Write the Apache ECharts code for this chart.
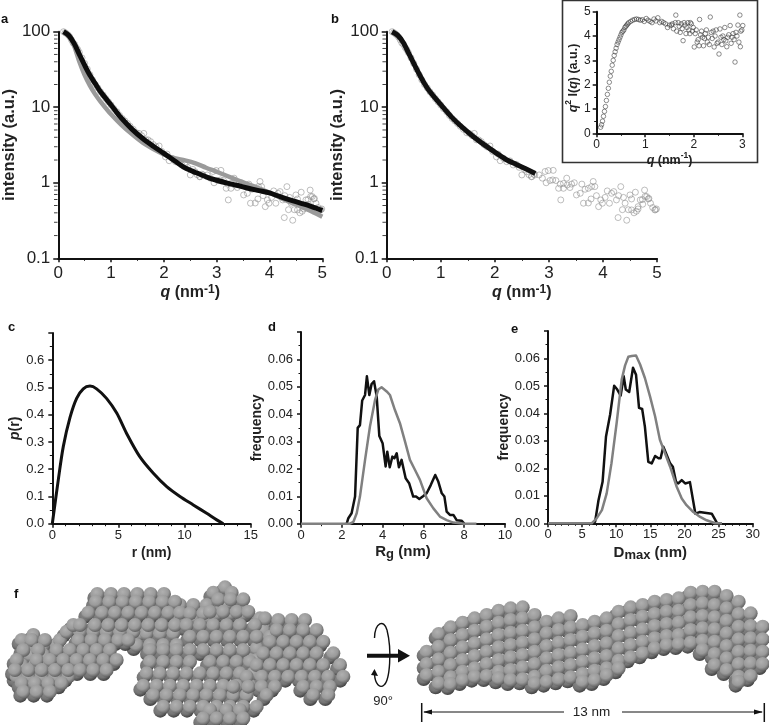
<!DOCTYPE html>
<html><head><meta charset="utf-8">
<style>html,body{margin:0;padding:0;background:#fff}#c{width:769px;height:725px}</style>
<script src="https://cdn.jsdelivr.net/npm/echarts@6/dist/echarts.min.js"></script>
</head><body><div id="c"></div>
<script>
const scatterLow=[[0.1,100],[0.13,97],[0.16,94],[0.19,90],[0.22,85],[0.25,78],[0.28,71],[0.31,68],[0.34,62],[0.37,58],[0.4,53],[0.45,45],[0.5,38],[0.55,32],[0.6,27],[0.65,23],[0.7,20],[0.75,18],[0.8,16],[0.85,14.5],[0.9,13],[0.95,11.8],[1,10.7],[1.05,9.6],[1.11,8.7],[1.16,7.8],[1.21,7.1],[1.26,6.6],[1.31,6.1],[1.36,5.6],[1.42,5.1],[1.48,4.6],[1.53,4.5],[1.58,4.2],[1.62,4.5],[1.66,3.7],[1.7,3.7],[1.75,3.5],[1.8,3.2],[1.85,3.0],[1.91,3.07],[1.96,2.6],[2.03,2.2],[2.06,2.4],[2.1,1.96],[2.16,2.1],[2.22,1.9],[2.28,1.95],[2.34,1.72],[2.4,1.75],[2.45,1.6],[2.5,1.27],[2.55,1.5],[2.59,1.4],[2.63,1.28],[2.68,1.2],[2.72,1.3]];
const scatterHigh=[[2.68,1.21],[2.74,1.27],[2.82,1.27],[2.93,1.41],[2.99,1.45],[3.08,1.46],[2.88,1.15],[2.95,1.0],[3.02,1.07],[3.07,1.09],[3.13,1.07],[3.18,.845],[3.21,.96],[3.27,.845],[3.27,.98],[3.33,1.15],[3.34,.935],[3.39,.865],[3.42,.96],[3.47,1.0],[3.51,.69],[3.58,.726],[3.61,.96],[3.67,.82],[3.73,.845],[3.79,.89],[3.82,1.04],[3.85,.89],[3.22,.593],[3.64,.536],[3.73,.54],[3.78,.61],[3.88,.675],[3.92,.483],[3.96,.593],[3.99,.536],[4.04,.64],[4.12,.536],[4.08,.78],[4.16,.726],[4.20,.764],[4.25,.593],[4.33,.889],[4.29,.675],[4.38,.64],[4.41,.536],[4.50,.69],[4.53,.61],[4.60,.75],[4.36,.44],[4.47,.44],[4.53,.437],[4.575,.40],[4.65,.483],[4.69,.593],[4.735,.52],[4.77,.80],[4.81,.656],[4.84,.61],[4.88,.536],[4.92,.47],[4.96,.437],[4.28,.346],[4.44,.319],[4.97,.44],[4.99,.45],[4.85,.62],[4.78,.66],[4.73,.6],[4.65,.45],[4.62,.42]];
const fitA=[[.1,100],[.2,89],[.3,70],[.4,50],[.5,36],[.6,26.5],[.7,20.5],[.8,16],[1,10.7],[1.2,7.1],[1.4,5.1],[1.6,3.85],[1.8,3.05],[2,2.45],[2.2,1.96],[2.4,1.58],[2.6,1.37],[2.8,1.2],[3,1.08],[3.2,.99],[3.4,.92],[3.6,.845],[3.8,.787],[4,.733],[4.2,.655],[4.4,.59],[4.6,.535],[4.8,.483],[5,.428]];
const greyA=[[.1,100],[.2,88],[.3,65],[.4,40],[.5,26.7],[.6,19.3],[.7,14.8],[.8,11.9],[1,8.05],[1.2,5.8],[1.4,4.37],[1.6,3.39],[1.8,2.8],[2,2.38],[2.2,2.11],[2.4,1.98],[2.6,1.81],[2.8,1.58],[3,1.4],[3.2,1.23],[3.4,1.08],[3.6,.955],[3.8,.845],[4,.74],[4.2,.635],[4.4,.55],[4.6,.483],[4.8,.418],[5,.356]];
const fitB=[[.1,100],[.2,90],[.3,73],[.4,53],[.5,38],[.6,27.5],[.7,20.5],[.8,16],[1,10.8],[1.2,7.4],[1.4,5.4],[1.6,4.1],[1.8,3.2],[2,2.55],[2.2,2.05],[2.4,1.75],[2.6,1.5],[2.75,1.33]];
const kratky=[[.08,.25],[.1,.35],[.12,.5],[.14,.7],[.16,.9],[.18,1.1],[.2,1.35],[.22,1.6],[.24,1.85],[.26,2.1],[.28,2.35],[.3,2.55],[.32,2.8],[.34,3.0],[.36,3.2],[.38,3.35],[.4,3.5],[.42,3.65],[.44,3.75],[.46,3.85],[.48,3.95],[.5,4.05],[.52,4.15],[.54,4.2],[.56,4.25],[.58,4.35],[.6,4.4],[.62,4.45],[.64,4.5],[.66,4.55],[.7,4.6],[.74,4.65],[.78,4.68],[.82,4.7],[.86,4.68],[.9,4.65],[.94,4.67],[.98,4.6],[1.02,4.72],[1.06,4.65],[1.1,4.6],[1.14,4.55],[1.18,4.7],[1.22,4.62],[1.26,4.75],[1.3,4.55],[1.34,4.6],[1.38,4.55],[1.42,4.5],[1.46,4.35],[1.5,4.45],[1.54,4.45],[1.56,4.5],[1.58,4.3],[1.63,4.86],[1.62,4.55],[1.65,4.2],[1.68,4.55],[1.7,4.4],[1.72,4.15],[1.74,4.5],[1.76,4.3],[1.78,3.81],[1.8,4.55],[1.82,4.45],[1.84,4.1],[1.86,4.35],[1.88,4.55],[1.9,4.25],[1.92,4.1],[1.93,4.55],[1.95,4.5],[1.97,4.2],[1.99,4.35],[2.01,3.55],[2.03,4.1],[2.05,4.25],[2.07,3.75],[2.09,3.85],[2.11,3.6],[2.12,4.68],[2.14,4.05],[2.16,4.2],[2.18,3.95],[2.2,3.6],[2.22,3.9],[2.24,4.1],[2.26,4.25],[2.28,3.75],[2.3,3.95],[2.32,3.65],[2.34,4.78],[2.36,4.15],[2.38,3.9],[2.4,4.2],[2.42,3.55],[2.44,4.0],[2.46,4.25],[2.48,3.7],[2.5,3.75],[2.52,3.26],[2.54,4.29],[2.56,3.95],[2.58,3.65],[2.6,4.0],[2.62,3.85],[2.64,4.35],[2.66,3.8],[2.68,3.56],[2.7,3.95],[2.72,4.05],[2.75,4.43],[2.77,3.7],[2.79,3.95],[2.81,4.1],[2.83,3.85],[2.85,2.93],[2.87,4.15],[2.89,4.0],[2.91,4.45],[2.93,3.75],[2.95,4.86],[2.96,3.56],[2.97,4.2],[2.99,4.25],[3.01,4.43]];
const pr=[[0,0],[.45,.16],[.83,.283],[1.34,.39],[1.84,.46],[2.34,.495],[2.85,.505],[3.35,.495],[4.1,.46],[4.87,.406],[5.6,.333],[6.6,.247],[7.64,.185],[8.65,.136],[9.65,.10],[10.66,.069],[11.67,.038],[12.43,.014],[12.93,0]];
const rgBlack=[[2.24,0],[2.32,.002],[2.48,.0038],[2.65,.0099],[2.78,.035],[2.89,.036],[3.0,.045],[3.14,.047],[3.23,.0538],[3.35,.047],[3.46,.051],[3.58,.052],[3.71,.0465],[3.84,.032],[4.0,.0294],[4.15,.0209],[4.23,.0263],[4.35,.0206],[4.48,.0245],[4.58,.0239],[4.69,.0257],[4.8,.0206],[4.93,.0233],[5.02,.0227],[5.13,.0166],[5.3,.0148],[5.5,.0099],[5.64,.0099],[5.8,.009],[6.0,.0101],[6.16,.0111],[6.36,.0141],[6.45,.0135],[6.58,.0178],[6.73,.0154],[6.9,.0111],[7.03,.0099],[7.14,.0044],[7.3,.0032],[7.47,.0032],[7.63,.0013],[7.87,.0011],[8.0,0]];
const rgGrey=[[0,0],[2.4,0],[2.57,.0007],[2.73,.0038],[2.89,.0099],[3.14,.0233],[3.38,.0355],[3.63,.0452],[3.79,.049],[3.95,.0498],[4.2,.0483],[4.36,.047],[4.6,.0416],[4.85,.0367],[5.1,.03],[5.34,.0233],[5.59,.0196],[5.83,.016],[6.16,.0093],[6.49,.0056],[6.81,.0026],[7.14,.0013],[7.47,.0004],[8,0],[8.6,0]];
const dmaxBlack=[[6.4,0],[6.9,.0005],[7.4,.0084],[8.0,.0151],[8.5,.0316],[9.1,.0395],[9.7,.0501],[10.15,.0487],[10.65,.0465],[11.1,.0535],[11.4,.0487],[11.9,.0478],[12.46,.0566],[12.9,.0541],[13.34,.042],[13.8,.0416],[14.2,.0352],[14.7,.0224],[15.2,.0218],[15.7,.0245],[16.2,.0237],[16.5,.0237],[16.9,.0279],[17.4,.0249],[17.9,.0218],[18.3,.0206],[18.76,.0151],[19.1,.0145],[19.6,.0157],[20.1,.0145],[20.8,.015],[21.6,.0035],[22.2,.0041],[24,.0035],[24.8,0]];
const dmaxGrey=[[0,0],[6.4,0],[7.1,.0017],[7.9,.0048],[8.6,.0109],[9.3,.0218],[10.06,.0365],[10.8,.0523],[11.3,.0575],[11.77,.0606],[12.26,.0609],[12.9,.0611],[13.5,.0578],[14.2,.0529],[14.95,.0462],[15.7,.0389],[16.4,.0304],[17.15,.0255],[17.9,.0206],[18.86,.0133],[19.6,.009],[20.3,.0066],[21.3,.0041],[22.3,.0023],[23.25,.0011],[24.5,0],[25.5,0]];
const logMinorTicks=[.2,.3,.4,.5,.6,.7,.8,.9,2,3,4,5,6,7,8,9,20,30,40,50,60,70,80,90];
// bead model of panel f, left view: rows [y, x, x, ...]
const beadsLeft=[[225,90,130,170],[255,90,130,170,210],[285,65,105,145],[320,50,85,125,165,205],
[195,100],[210,65,95,135,180],[240,70,115,170],[270,50,110,150],[300,45,85,125,165],[340,65,105,145,185],[365,70,110,150],
[190,420,440,480,520],[225,410,450,490,530],[185,200,240,280,320,360,400],[165,220],[140,540,580,620],[105,540],[130,650,690,730],[100,680],[180,790],[145,780,795],[235,770],[270,750,770],
[72,292,333,372,412,452,492],[95,288,328,368,408,448,488,525],[128,265,306,345,385,425,465,505,540],[165,240,285,325,365,405,445,485,525],
[210,235,275,315,355,385],[240,210,250,290,330],[270,190,230,270,310,350],[300,205,240,280,320],
[105,580,620],[130,570,610],[165,560,600,640,680,720,765],[200,570,610,650,690,730,770,810],
[240,450,490,530,570,610,650,690,730],[275,450,490,530,570,630,670,710,750],[310,440,480,520,560,600,640,680,720,760],[347,430,470,510,550,590,630,670,710,750],[375,460,500,540,580,620,660,700,740],[410,490,530,570,610,650,690,730,770],[420,630,680,720],[445,610,650,690,730],
[150,835,875,915],[180,830,870,910,950],[215,810,850,890,930,970],[250,790,830,870,910,950,1000],[285,770,810,850,890,930,970,1020],[320,740,785,825,865,905,945,985,1030],[350,700,745,785,825,910,950,990],[375,800,940,985],
[52,675],[68,640,695],[88,655,692,730],[125,630,670,710,745]];
// bead model of panel f, right view: columns [x, y, y, ...]
const beadsRightCols=[[200,245,282,315],[236,192,230,268,305,340],[272,172,210,248,285,322,342],[308,158,195,232,270,305,330],[344,145,182,220,258,295,320],[380,135,170,208,245,282,318],[416,122,158,195,232,270,305,325],[452,115,150,188,225,262,300,330],[488,112,145,182,218,255,292,328],[524,135,172,208,245,282,320,340],[560,155,190,228,265,302,335],[596,145,180,218,255,292,328],[632,138,172,210,248,285,322],[668,165,200,238,275,312,335],[704,155,190,228,265,302,330],[740,145,182,220,258,295,315],[776,125,162,198,235,272,295],[812,112,150,188,225,262],[848,105,140,178,215,250],[884,95,132,168,205,235],[920,90,125,162,198,225],[956,85,122,158,195,222],[992,68,105,142,180,218],[1028,65,100,138,175,212,240],[1064,65,105,142,178,215,252,285],[1100,78,115,152,190,228,265,300],[1136,95,132,170,208,245,282,320,335],[1172,130,168,205,242,280,318],[1208,170,208,245,282]];
const ink='#111', txt='#222', F='"Liberation Sans",Arial,sans-serif';

const panels=[
 {l:53,t:31.7,w:269.3,h:226.6},{l:386.7,t:31.7,w:270.3,h:226.6},
 {l:596.7,t:11.7,w:145.6,h:121.6},{l:52.3,t:333,w:198.4,h:190.7},
 {l:301,t:332,w:204,h:191.7},{l:548,t:331,w:204.7,h:192.3},
 {l:0,t:570,w:400,h:155},{l:360,t:570,w:409,h:155}];
const grid=panels.map(p=>({left:p.l,top:p.t,width:p.w,height:p.h,containLabel:false}));
function richSized(sz,ss){return {i:{fontStyle:'italic',fontWeight:'bold',fontFamily:F,fontSize:sz,color:txt},
 s:{fontSize:ss,fontWeight:'bold',fontFamily:F,color:txt,verticalAlign:'top',lineHeight:18},
 b:{fontSize:ss+2,fontWeight:'bold',fontFamily:F,color:txt,verticalAlign:'bottom',lineHeight:18}};}
function xA(i,max,iv,minor,name,gap,fs,nfs,margin){return {gridIndex:i,type:'value',min:0,max,interval:iv,name,nameLocation:'middle',nameGap:gap,
 nameTextStyle:{fontFamily:F,fontWeight:'bold',fontSize:nfs,color:txt,rich:richSized(nfs,nfs-4)},
 axisLine:{onZero:false,lineStyle:{color:ink,width:2}},axisTick:{show:true,length:4,lineStyle:{color:ink,width:1.5}},
 minorTick:{show:true,splitNumber:minor,length:2.5,lineStyle:{color:ink,width:1}},splitLine:{show:false},minorSplitLine:{show:false},
 axisLabel:{fontFamily:F,fontSize:fs,color:txt,margin}};}
function yA(i,max,iv,minor,name,gap,fs,nfs,dec,margin,pad){return {gridIndex:i,type:'value',min:0,max,interval:iv,name,nameLocation:'middle',nameGap:gap,
 nameTextStyle:{fontFamily:F,fontWeight:'bold',fontSize:nfs,color:txt,rich:richSized(nfs,nfs-4),padding:pad||0},
 axisLine:{onZero:false,lineStyle:{color:ink,width:2}},axisTick:{show:true,length:4,lineStyle:{color:ink,width:1.5}},
 minorTick:{show:true,splitNumber:minor,length:2.5,lineStyle:{color:ink,width:1}},splitLine:{show:false},
 axisLabel:{fontFamily:F,fontSize:fs,color:txt,margin,showMaxLabel:dec>0?false:true,formatter:v=>dec>0?v.toFixed(dec):String(v)}};}
function yLog(i,gap){return {gridIndex:i,type:'log',logBase:10,min:.1,max:100,name:'intensity (a.u.)',nameLocation:'middle',nameGap:gap,
 nameTextStyle:{fontFamily:F,fontWeight:'bold',fontSize:16.5,color:txt},
 axisLine:{onZero:false,lineStyle:{color:ink,width:2}},axisTick:{show:true,length:5,lineStyle:{color:ink,width:1.5}},splitLine:{show:false},
 axisLabel:{fontFamily:F,fontSize:17,color:txt,margin:8,formatter:v=>String(+(+v).toPrecision(3))}};}
const hidden=(i,max,inv)=>({gridIndex:i,type:'value',min:0,max,inverse:!!inv,show:false,splitLine:{show:false}});

const xAxis=[xA(0,5,1,2,'{i|q} (nm{s|-1})',23,17,16,7),xA(1,5,1,2,'{i|q} (nm{s|-1})',23,17,16,7),
 xA(2,3,1,2,'{i|q} (nm{s|-1})',4,12,12.5,5),xA(3,15,5,5,'r (nm)',22,13,14,5),xA(4,10,2,2,'R{b|g} (nm)',19,13,15,5),xA(5,30,5,5,'D{b|max} (nm)',21,13,15,5),
 hidden(6,1200),hidden(7,1227)];
const yAxis=[yLog(0,36),yLog(1,33),
 yA(2,5,1,2,'{i|q}{s|2} I({i|q}) (a.u.)',12,12,12.5,0,6,[0,11,0,0]),
 yA(3,.7,.1,2,'{i|p}(r)',29,13,14,1,8),yA(4,.07,.01,2,'frequency',29,13,14,2,8),yA(5,.07,.01,2,'frequency',32,13,14,2,8),
 hidden(6,465,true),hidden(7,465,true)];
const C=(i,data,color,w,smooth)=>({type:'line',xAxisIndex:i,yAxisIndex:i,data,showSymbol:false,symbol:'none',smooth:smooth||false,lineStyle:{color,width:w,join:'round'},clip:false,silent:true});
const S=(i,data,color,size,bw)=>({type:'scatter',xAxisIndex:i,yAxisIndex:i,data,symbol:'circle',symbolSize:size,itemStyle:{color:'rgba(255,255,255,0)',borderColor:color,borderWidth:bw},clip:false,silent:true});
const minorSer=i=>({type:'scatter',xAxisIndex:i,yAxisIndex:i,data:logMinorTicks.map(v=>[0,v]),symbol:'rect',symbolSize:[3.5,1],symbolOffset:[-2.5,0],itemStyle:{color:ink},clip:false,silent:true});
function flatRows(rows){const o=[];rows.forEach(r=>{for(let k=1;k<r.length;k++)o.push([r[k],r[0]]);});return o;}
function flatCols(cols){const o=[];cols.forEach(r=>{for(let k=1;k<r.length;k++)o.push([r[0],r[k]]);});return o;}
function ball(a,b,c){return new echarts.graphic.RadialGradient(.4,.35,.68,[{offset:0,color:a},{offset:.6,color:b},{offset:1,color:c}]);}
function beadSeries(i,d,size){return [
 {type:'scatter',xAxisIndex:i,yAxisIndex:i,data:d,symbolSize:size,symbolOffset:[-3,4],itemStyle:{color:ball('#8a8a8a','#747474','#3c3c3c'),opacity:1},clip:false,silent:true},
 {type:'scatter',xAxisIndex:i,yAxisIndex:i,data:d,symbolSize:size,itemStyle:{color:ball('#b0b0b0','#9a9a9a','#5a5a5a'),opacity:1},clip:false,silent:true}];}
const series=[S(0,scatterLow.concat(scatterHigh),'#8a8a8a',6,.7),C(0,greyA,'#9a9a9a',4.5,.3),C(0,fitA,'#0c0c0c',5,.3),minorSer(0),
 S(1,scatterLow.concat(scatterHigh),'#8a8a8a',6,.7),C(1,fitB,'#111',5,.3),minorSer(1),
 S(2,kratky,'#333',4.5,.7),
 C(3,pr,'#111',3,.3),C(4,rgBlack,'#111',2.5),C(4,rgGrey,'#808080',2.5),C(5,dmaxBlack,'#111',2.5),C(5,dmaxGrey,'#808080',2.5),
 ...beadSeries(6,flatRows(beadsLeft),14),...beadSeries(7,flatCols(beadsRightCols),14)];

const lab=(t,x,y)=>({type:'text',x,y,style:{text:t,fontFamily:F,fontWeight:'bold',fontSize:13,fill:'#111',textVerticalAlign:'middle'}});
const ln=(x1,y1,x2,y2,w)=>({type:'line',shape:{x1,y1,x2,y2},style:{stroke:'#111',lineWidth:w}});
const poly=pts=>({type:'polygon',shape:{points:pts},style:{fill:'#111'}});
const bez=(x1,y1,cpx1,cpy1,cpx2,cpy2,x2,y2)=>({type:'bezierCurve',shape:{x1,y1,cpx1,cpy1,cpx2,cpy2,x2,y2},style:{fill:'none',stroke:'#111',lineWidth:1.4}});
const graphic=[
 {type:'rect',shape:{x:562.5,y:0.5,width:195,height:162},style:{fill:'none',stroke:'#333',lineWidth:1.6},z:-1},
 lab('a',1,19),lab('b',331,19),lab('c',8,327),lab('d',268,327),lab('e',511,329),lab('f',14,594),
 ln(367,655.7,400,655.7,4),poly([[398,649],[410,655.7],[398,662.5]]),
 bez(374.5,638,375,622,384,619,387,630),bez(387,630,392,650,390,680,384,685),bez(384,685,380,689,375,684,374.5,674),
 poly([[371,675],[374.5,669],[378,676]]),
 {type:'text',x:383,y:701,style:{text:'90°',fontFamily:F,fontSize:13,fill:txt,textAlign:'center',textVerticalAlign:'middle'}},
 ln(421.7,703,421.7,722,1.5),ln(764.3,703,764.3,722,1.5),ln(424,712,564,712,1),ln(622,712,762,712,1),
 poly([[423,712],[432,709.5],[432,714.5]]),poly([[763,712],[754,709.5],[754,714.5]]),
 {type:'text',x:591.5,y:712,style:{text:'13 nm',fontFamily:F,fontSize:13.5,fill:txt,textAlign:'center',textVerticalAlign:'middle'}}
];
const chart=echarts.init(document.getElementById('c'),null,{renderer:'canvas'});
chart.setOption({animation:false,backgroundColor:'#fff',grid,xAxis,yAxis,series,graphic});
</script></body></html>
